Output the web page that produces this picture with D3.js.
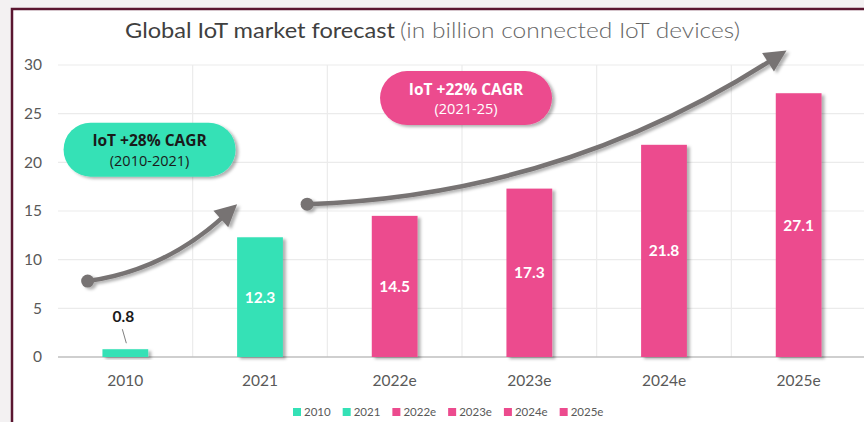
<!DOCTYPE html>
<html lang="en">
<head>
    <script src="https://d3js.org/d3.v7.min.js"></script>
    <style>
        body { margin: 0; background: #f2f2f2; }
        svg { display: block; }
    </style>
</head>
<body>
    <svg width="864" height="422"></svg>
    <script>
        const categories = ["2010", "2021", "2022e", "2023e", "2024e", "2025e"];
        const values = [0.8, 12.3, 14.5, 17.3, 21.8, 27.1];
        const barColors = ["#34e1b6", "#34e1b6", "#ec4b8e", "#ec4b8e", "#ec4b8e", "#ec4b8e"];
        const yTicks = [0, 5, 10, 15, 20, 25, 30];

        // growth arrows, in data units: [category index, value]
        const arrows = [
            {from: [-0.28, 7.8], ctrl: [0.29, 8.9], to: [0.83, 15.7]},
            {from: [1.35, 15.7], ctrl: [3.23, 16.6], to: [4.91, 31.5]}
        ];
        const pills = [
            {title: "IoT +28% CAGR", sub: "(2010-2021)", at: [0.18, 21.3], fill: "#34e1b6", text: "#1a1a1a"},
            {title: "IoT +22% CAGR", sub: "(2021-25)", at: [2.53, 26.6], fill: "#ec4b8e", text: "#ffffff"}
        ];

        const svg = d3.select("svg");
        const plotL = 58, plotR = 866, plotT = 65, plotB = 357;

        // page + panel
        svg.append("rect").attr("width", 864).attr("height", 422).attr("fill", "#f3f1f2");
        svg.append("rect").attr("x", 12).attr("y", 9).attr("width", 860).attr("height", 420).attr("fill", "#ffffff");
        svg.append("path").attr("d", "M12,422 L12,9 L864,9")
            .attr("fill", "none").attr("stroke", "#5a1630").attr("stroke-width", 2.5);

        const defs = svg.append("defs");
        const sh = defs.append("filter").attr("id", "shadow")
            .attr("x", "-20%").attr("y", "-20%").attr("width", "150%").attr("height", "150%");
        sh.append("feDropShadow").attr("dx", 3).attr("dy", 2).attr("stdDeviation", 1.8)
            .attr("flood-color", "#000").attr("flood-opacity", 0.3);

        const x = d3.scaleBand().domain(categories).range([plotL, plotR])
            .paddingInner(0.66).paddingOuter(0.33);
        const xi = d3.scaleLinear().domain([-0.5, categories.length - 0.5]).range([plotL, plotR]);
        const y = d3.scaleLinear().domain([0, 30]).range([plotB, plotT]);

        // grid
        const grid = svg.append("g").attr("stroke", "#ebebeb").attr("stroke-width", 1.2);
        grid.selectAll(".h").data(yTicks.filter(d => d > 0)).join("line").attr("class", "h")
            .attr("x1", plotL).attr("x2", 864).attr("y1", d => y(d)).attr("y2", d => y(d));
        grid.selectAll(".v").data(d3.range(categories.length)).join("line").attr("class", "v")
            .attr("x1", d => xi(d + 0.5)).attr("x2", d => xi(d + 0.5))
            .attr("y1", plotT).attr("y2", plotB);

        // axes
        const yAxis = svg.append("g").attr("transform", `translate(${plotL},0)`)
            .call(d3.axisLeft(y).tickValues(yTicks).tickSize(0).tickPadding(16));
        yAxis.select(".domain").remove();
        yAxis.selectAll("text").attr("font-family", "Lato, 'Open Sans', sans-serif")
            .attr("font-size", 15.5).attr("fill", "#595959");

        const xAxis = svg.append("g").attr("transform", `translate(0,${plotB})`)
            .call(d3.axisBottom(x).tickSize(0).tickPadding(18));
        xAxis.select(".domain").attr("stroke", "#bfbfbf").attr("stroke-width", 1.5)
            .attr("d", `M${plotL},0H864`);
        xAxis.selectAll("text").attr("font-family", "Lato, 'Open Sans', sans-serif")
            .attr("font-size", 15.5).attr("fill", "#595959");

        // bars
        const data = categories.map((c, i) => ({c, v: values[i], color: barColors[i]}));
        svg.append("g").selectAll("rect").data(data).join("rect")
            .attr("x", d => x(d.c)).attr("width", x.bandwidth())
            .attr("y", d => y(d.v)).attr("height", d => y(0) - y(d.v))
            .attr("fill", d => d.color).attr("filter", "url(#shadow)");

        // value labels
        const lab = svg.append("g").attr("font-family", "Lato, 'Open Sans', sans-serif")
            .attr("font-weight", 700).attr("font-size", 15.5).attr("text-anchor", "middle");
        lab.selectAll("text").data(data.filter(d => d.v > 5)).join("text")
            .attr("x", d => x(d.c) + x.bandwidth() / 2)
            .attr("y", d => (y(d.v) + y(0)) / 2).attr("dy", "0.35em")
            .attr("fill", "#ffffff").text(d => d.v.toFixed(1));
        data.filter(d => d.v <= 5).forEach(d => {
            const cx = x(d.c) + x.bandwidth() / 2;
            lab.append("text").attr("x", cx - 2).attr("y", y(d.v) - 33).attr("dy", "0.35em")
                .attr("fill", "#1a1a1a").text(d.v.toFixed(1));
            svg.append("line").attr("x1", cx - 3).attr("y1", y(d.v) - 20)
                .attr("x2", cx + 1).attr("y2", y(d.v) - 6)
                .attr("stroke", "#7f7f7f").attr("stroke-width", 1);
        });

        // arrows
        const ag = svg.append("g").attr("filter", "url(#shadow)");
        arrows.forEach(a => {
            const p0 = [xi(a.from[0]), y(a.from[1])];
            const c = [xi(a.ctrl[0]), y(a.ctrl[1])];
            const p2 = [xi(a.to[0]), y(a.to[1])];
            const ang = Math.atan2(p2[1] - c[1], p2[0] - c[0]);
            const len = 22, hw = 11;
            const base = [p2[0] - len * Math.cos(ang), p2[1] - len * Math.sin(ang)];
            const path = d3.path();
            path.moveTo(p0[0], p0[1]);
            path.quadraticCurveTo(c[0], c[1], base[0] + 4 * Math.cos(ang), base[1] + 4 * Math.sin(ang));
            ag.append("path").attr("d", path.toString()).attr("fill", "none")
                .attr("stroke", "#777373").attr("stroke-width", 4.5);
            ag.append("circle").attr("cx", p0[0]).attr("cy", p0[1]).attr("r", 6.5).attr("fill", "#777373");
            const pts = [p2,
                [base[0] + hw * Math.sin(ang), base[1] - hw * Math.cos(ang)],
                [base[0] - hw * Math.sin(ang), base[1] + hw * Math.cos(ang)]];
            ag.append("polygon").attr("points", pts.map(p => p.join(",")).join(" ")).attr("fill", "#777373");
        });

        // CAGR pills
        pills.forEach(p => {
            const cx = xi(p.at[0]), cy = y(p.at[1]);
            const w = 172, h = 54;
            const g = svg.append("g");
            g.append("rect").attr("x", cx - w / 2).attr("y", cy - h / 2).attr("width", w).attr("height", h)
                .attr("rx", h / 2).attr("fill", p.fill).attr("filter", "url(#shadow)");
            g.append("text").attr("x", cx).attr("y", cy - 9).attr("dy", "0.35em")
                .attr("text-anchor", "middle").attr("font-family", "'Open Sans', sans-serif")
                .attr("font-weight", 700).attr("font-size", 15.5).attr("fill", p.text).text(p.title);
            g.append("text").attr("x", cx).attr("y", cy + 11).attr("dy", "0.35em")
                .attr("text-anchor", "middle").attr("font-family", "'Open Sans', sans-serif")
                .attr("font-size", 14.5).attr("fill", p.text).text(p.sub);
        });

        // title, two parts stretched to the width seen in the reference
        const tFont = "Lato, 'Open Sans', sans-serif";
        svg.append("text").attr("x", 125).attr("y", 38).attr("font-family", tFont).attr("font-size", 21)
            .attr("fill", "#404040").attr("textLength", 270).attr("lengthAdjust", "spacingAndGlyphs")
            .text("Global IoT market forecast");
        svg.append("text").attr("x", 400).attr("y", 38).attr("font-family", tFont).attr("font-size", 21)
            .attr("fill", "#666666").attr("font-weight", 300)
            .attr("textLength", 340).attr("lengthAdjust", "spacingAndGlyphs")
            .text("(in billion connected IoT devices)");

        // legend
        const legend = svg.append("g").attr("font-family", "Lato, 'Open Sans', sans-serif")
            .attr("font-size", 11.5).attr("fill", "#595959");
        let lx = 293;
        data.forEach(d => {
            legend.append("rect").attr("x", lx).attr("y", 408).attr("width", 8).attr("height", 8).attr("fill", d.color);
            const t = legend.append("text").attr("x", lx + 11).attr("y", 416).text(d.c);
            lx += 11 + t.node().getComputedTextLength() + 12;
        });
    </script>
</body>
</html>
